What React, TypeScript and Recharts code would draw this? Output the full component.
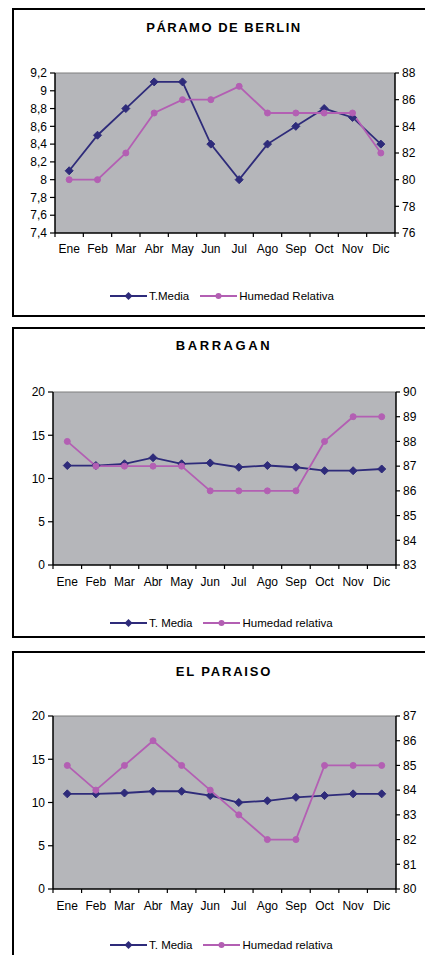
import React from 'react'
import { LineChart, Line, XAxis, YAxis, CartesianGrid, ReferenceLine } from 'recharts'

const meses = ['Ene', 'Feb', 'Mar', 'Abr', 'May', 'Jun', 'Jul', 'Ago', 'Sep', 'Oct', 'Nov', 'Dic']

// Páramo de Berlin
const tempBerlin = [8.1, 8.5, 8.8, 9.1, 9.1, 8.4, 8.0, 8.4, 8.6, 8.8, 8.7, 8.4]
const humBerlin = [80, 80, 82, 85, 86, 86, 87, 85, 85, 85, 85, 82]
const tempTicksBerlin = [7.4, 7.6, 7.8, 8, 8.2, 8.4, 8.6, 8.8, 9, 9.2]
const humTicksBerlin = [76, 78, 80, 82, 84, 86, 88]

// Barragan
const tempBarragan = [11.5, 11.5, 11.7, 12.4, 11.7, 11.8, 11.3, 11.5, 11.3, 10.9, 10.9, 11.1]
const humBarragan = [88, 87, 87, 87, 87, 86, 86, 86, 86, 88, 89, 89]
const tempTicksBarragan = [0, 5, 10, 15, 20]
const humTicksBarragan = [83, 84, 85, 86, 87, 88, 89, 90]

// El Paraiso
const tempParaiso = [11.0, 11.0, 11.1, 11.3, 11.3, 10.8, 10.0, 10.2, 10.6, 10.8, 11.0, 11.0]
const humParaiso = [85, 84, 85, 86, 85, 84, 83, 82, 82, 85, 85, 85]
const tempTicksParaiso = [0, 5, 10, 15, 20]
const humTicksParaiso = [80, 81, 82, 83, 84, 85, 86, 87]

const NAVY = '#2e2b7a'
const MAGENTA = '#b35fb3'
const PLOT_BG = '#b5b6ba'
const FONT = '"Liberation Sans", Arial, sans-serif'

interface Panel {
  titulo: string
  tracking: number
  temp: number[]
  hum: number[]
  tempTicks: number[]
  humTicks: number[]
  tempLabel: string
  humLabel: string
  boxTop: number
  boxBottom: number
  titleY: number
  plotTop: number
  plotBottom: number
  plotLeft: number
  plotRight: number
  labelGap: number
  legendY: number
}

const paneles: Panel[] = [
  {
    titulo: 'PÁRAMO DE BERLIN', tracking: 1.5,
    temp: tempBerlin, hum: humBerlin, tempTicks: tempTicksBerlin, humTicks: humTicksBerlin,
    tempLabel: 'T.Media', humLabel: 'Humedad Relativa',
    boxTop: 8, boxBottom: 317, titleY: 28,
    plotTop: 73, plotBottom: 233, plotLeft: 55, plotRight: 395, labelGap: 16, legendY: 296
  },
  {
    titulo: 'BARRAGAN', tracking: 2.6,
    temp: tempBarragan, hum: humBarragan, tempTicks: tempTicksBarragan, humTicks: humTicksBarragan,
    tempLabel: 'T. Media', humLabel: 'Humedad relativa',
    boxTop: 327, boxBottom: 638, titleY: 346,
    plotTop: 392, plotBottom: 565, plotLeft: 53, plotRight: 396, labelGap: 17, legendY: 623
  },
  {
    titulo: 'EL PARAISO', tracking: 1.8,
    temp: tempParaiso, hum: humParaiso, tempTicks: tempTicksParaiso, humTicks: humTicksParaiso,
    tempLabel: 'T. Media', humLabel: 'Humedad relativa',
    boxTop: 651, boxBottom: 980, titleY: 672,
    plotTop: 716, plotBottom: 889, plotLeft: 53, plotRight: 396, labelGap: 17, legendY: 945
  }
]

const fmt = (v: number) => String(v).replace('.', ',')

const Diamante = (props: any) => {
  const { cx, cy, index } = props
  if (cx == null || cy == null) return <g key={`dm-${index}`} />
  const s = 4
  return (
    <path
      key={`dm-${index}`}
      d={`M${cx},${cy - s} L${cx + s},${cy} L${cx},${cy + s} L${cx - s},${cy} Z`}
      fill={NAVY}
      stroke={NAVY}
    />
  )
}

function LegendIcon({ tipo, color }: { tipo: 'diamond' | 'circle'; color: string }) {
  return (
    <svg width={37} height={10} style={{ display: 'block' }}>
      <line x1={0} y1={5} x2={37} y2={5} stroke={color} strokeWidth={2} />
      {tipo === 'diamond'
        ? <path d="M18.5,1 L22.5,5 L18.5,9 L14.5,5 Z" fill={color} />
        : <circle cx={18.5} cy={5} r={3} fill={color} />}
    </svg>
  )
}

function PanelClima({ p }: { p: Panel }) {
  const data = meses.map((mes, i) => ({ mes, temp: p.temp[i], hum: p.hum[i] }))
  const plotW = p.plotRight - p.plotLeft
  const half = plotW / meses.length / 2
  const xAxisH = 30
  const chartTop = p.plotTop - 10
  const chartH = p.plotBottom - chartTop + xAxisH

  const MesTick = (props: any) => {
    const { x, y, payload, index } = props
    return (
      <g>
        <line x1={x - half} y1={y} x2={x - half} y2={y + 4} stroke="#000" strokeWidth={1.2} />
        {index === meses.length - 1 && (
          <line x1={x + half} y1={y} x2={x + half} y2={y + 4} stroke="#000" strokeWidth={1.2} />
        )}
        <text x={x} y={y + p.labelGap} textAnchor="middle" dominantBaseline="central"
          fontSize={12} fontFamily={FONT} fill="#000">
          {payload.value}
        </text>
      </g>
    )
  }

  return (
    <>
      <div style={{
        position: 'absolute', left: 12, top: p.boxTop, width: 440, height: p.boxBottom - p.boxTop,
        border: '2px solid #000', boxSizing: 'border-box', background: '#fff'
      }} />
      <div style={{
        position: 'absolute', left: 24, width: 400, top: p.titleY - 9, height: 18, lineHeight: '18px',
        textAlign: 'center', fontFamily: FONT, fontWeight: 'bold', fontSize: 13,
        letterSpacing: p.tracking, color: '#000'
      }}>
        {p.titulo}
      </div>
      <div style={{ position: 'absolute', left: 0, top: chartTop }}>
        <LineChart width={425} height={chartH} data={data}
          margin={{ top: 10, right: 0, bottom: 0, left: 0 }}>
          <CartesianGrid fill={PLOT_BG} stroke="none" horizontal={false} vertical={false} />
          <XAxis
            dataKey="mes"
            scale="point"
            interval={0}
            padding={{ left: half, right: half }}
            height={xAxisH}
            tickLine={false}
            tickSize={0}
            tickMargin={0}
            axisLine={{ stroke: '#000', strokeWidth: 1.5 }}
            tick={<MesTick />}
          />
          <YAxis
            yAxisId="temp"
            orientation="left"
            width={p.plotLeft}
            domain={[p.tempTicks[0], p.tempTicks[p.tempTicks.length - 1]]}
            ticks={p.tempTicks}
            interval={0}
            tickFormatter={fmt}
            tickSize={5}
            tickMargin={3}
            tick={{ fill: '#000', fontSize: 12, fontFamily: FONT }}
            tickLine={{ stroke: '#000', strokeWidth: 1.2 }}
            axisLine={{ stroke: '#000', strokeWidth: 1.5 }}
            allowDataOverflow
          />
          <YAxis
            yAxisId="hum"
            orientation="right"
            width={425 - p.plotRight}
            domain={[p.humTicks[0], p.humTicks[p.humTicks.length - 1]]}
            ticks={p.humTicks}
            interval={0}
            tickSize={4}
            tickMargin={3}
            tick={{ fill: '#000', fontSize: 12, fontFamily: FONT }}
            tickLine={{ stroke: '#000', strokeWidth: 1.2 }}
            axisLine={{ stroke: '#000', strokeWidth: 1.5 }}
            allowDataOverflow
          />
          <ReferenceLine yAxisId="temp" y={p.tempTicks[p.tempTicks.length - 1]} stroke="#7f7f7f" strokeWidth={1.2} />
          <Line
            yAxisId="temp"
            type="linear"
            dataKey="temp"
            stroke={NAVY}
            strokeWidth={1.8}
            dot={Diamante}
            isAnimationActive={false}
          />
          <Line
            yAxisId="hum"
            type="linear"
            dataKey="hum"
            stroke={MAGENTA}
            strokeWidth={1.8}
            dot={{ r: 3, fill: MAGENTA, stroke: MAGENTA, strokeWidth: 1 }}
            isAnimationActive={false}
          />
        </LineChart>
      </div>
      <div style={{
        position: 'absolute', left: 110, top: p.legendY - 8, height: 16,
        display: 'flex', alignItems: 'center', fontFamily: FONT, fontSize: 11.5, color: '#000'
      }}>
        <LegendIcon tipo="diamond" color={NAVY} />
        <span style={{ marginLeft: 2 }}>{p.tempLabel}</span>
        <span style={{ width: 11 }} />
        <LegendIcon tipo="circle" color={MAGENTA} />
        <span style={{ marginLeft: 2 }}>{p.humLabel}</span>
      </div>
    </>
  )
}

export default function App() {
  return (
    <div style={{ position: 'absolute', left: 0, top: 0, width: 425, height: 955, overflow: 'hidden', background: '#fff' }}>
      {paneles.map(p => <PanelClima key={p.titulo} p={p} />)}
    </div>
  )
}
